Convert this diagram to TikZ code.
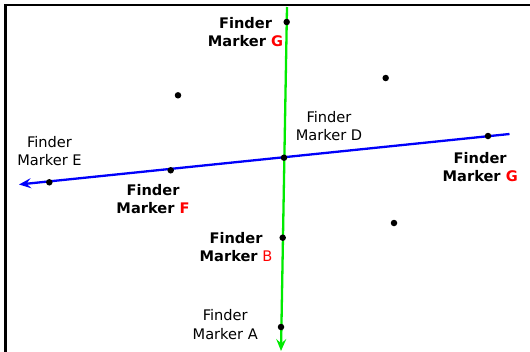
\documentclass[tikz,border=0pt]{standalone}
\usepackage{fontspec}
\setmainfont{DejaVu Sans}
\usetikzlibrary{arrows.meta}
\definecolor{lgreen}{RGB}{0,235,0}
\definecolor{lblue}{RGB}{0,0,250}
\definecolor{lred}{RGB}{255,0,0}
\tikzset{
  dot/.style={circle,fill=black,inner sep=0pt,minimum size=6.5pt},
  lbl/.style={align=center,inner sep=0pt,font=\fontsize{14.6}{18.2}\selectfont},
  axisline/.style={line width=2.3pt,-{Stealth[length=12pt,width=10pt,inset=4.5pt]}},
}
\begin{document}
\begin{tikzpicture}[x=1pt,y=-1pt]
\useasboundingbox (0,0) rectangle (530,351);
\fill[white] (0,0) rectangle (530,351);
% frame (only left and top edges visible)
\draw[line width=2.6pt,black] (5.5,360) -- (5.5,4.8) -- (540,4.8);
% coordinates
\coordinate (gtop) at (287,7);
\coordinate (gend) at (281,351);
\coordinate (btop) at (509.5,134);
\coordinate (bend) at (19,184.5);
% lines
\draw[axisline,lgreen] (gtop) -- (gend);
\draw[axisline,lblue] (btop) -- (bend);
% dots
\node[dot] (dG) at (286.7,22) {};
\node[dot] (dD) at (284,157.7) {};
\node[dot] (dB) at (282.7,237.7) {};
\node[dot] (dA) at (281,327) {};
\node[dot] (dG2) at (488,136) {};
\node[dot] (dF) at (170.7,170.3) {};
\node[dot] (dE) at (49.3,182.3) {};
\node[dot] (p1) at (178,95.3) {};
\node[dot] (p2) at (385.7,78) {};
\node[dot] (p3) at (394,223) {};
% labels
\node[lbl] (lG) at (245.5,31.7) {\textbf{Finder}\\\textbf{Marker \textcolor{lred}{G}}};
\node[lbl] (lD) at (329,125.7) {Finder\\Marker D};
\node[lbl] (lE) at (49.5,151) {Finder\\Marker E};
\node[lbl] (lF) at (153,199) {\textbf{Finder}\\\textbf{Marker \textcolor{lred}{F}}};
\node[lbl] (lG2) at (480.2,166.7) {\textbf{Finder}\\\textbf{Marker \textcolor{lred}{G}}};
\node[lbl] (lB) at (236,246.7) {\textbf{Finder}\\\textbf{Marker} \textcolor{lred}{B}};
\node[lbl] (lA) at (225.2,324.5) {Finder\\Marker A};
\end{tikzpicture}
\end{document}
